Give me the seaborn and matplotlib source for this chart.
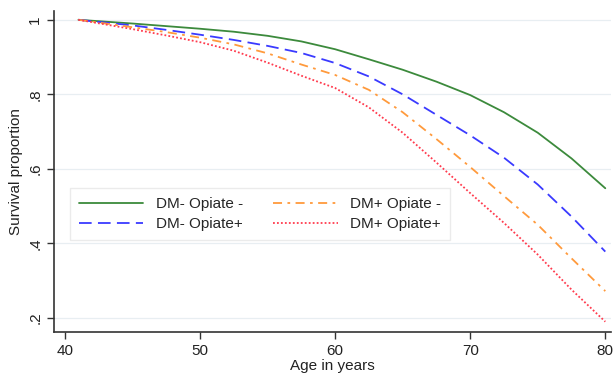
import pandas as pd
import seaborn as sns
import matplotlib.pyplot as plt

# Survival curves
ages = [41, 45, 47.5, 50, 52.5, 55, 57.5, 60, 62.5, 65, 67.5, 70, 72.5, 75, 77.5, 80]
dm_neg_op_neg = [1.0, 0.990, 0.983, 0.976, 0.968, 0.957, 0.942, 0.921, 0.894, 0.866, 0.834, 0.798, 0.752, 0.697, 0.628, 0.548]
dm_neg_op_pos = [1.0, 0.985, 0.973, 0.960, 0.946, 0.930, 0.911, 0.884, 0.848, 0.800, 0.745, 0.690, 0.630, 0.558, 0.472, 0.378]
dm_pos_op_neg = [1.0, 0.980, 0.967, 0.952, 0.934, 0.910, 0.880, 0.852, 0.812, 0.752, 0.680, 0.605, 0.527, 0.450, 0.360, 0.272]
dm_pos_op_pos = [1.0, 0.975, 0.958, 0.940, 0.917, 0.885, 0.850, 0.817, 0.765, 0.697, 0.617, 0.535, 0.455, 0.370, 0.276, 0.190]

groups = ['DM- Opiate -', 'DM- Opiate+', 'DM+ Opiate -', 'DM+ Opiate+']
series = [dm_neg_op_neg, dm_neg_op_pos, dm_pos_op_neg, dm_pos_op_pos]

df = pd.DataFrame({
    'age': ages * 4,
    'surv': sum(series, []),
    'group': [g for g in groups for _ in ages],
})

colors = {'DM- Opiate -': '#3c8a3c', 'DM- Opiate+': '#3a3aff',
          'DM+ Opiate -': '#ff9a3c', 'DM+ Opiate+': '#ff3b4e'}
dashes = {'DM- Opiate -': '', 'DM- Opiate+': (7, 3.5),
          'DM+ Opiate -': (5, 3, 1.5, 3), 'DM+ Opiate+': (1, 1.2)}

sns.set_style('white')
plt.rcParams['font.family'] = ['Liberation Sans', 'DejaVu Sans']

fig = plt.figure(figsize=(6.15, 3.74), dpi=100)
ax = fig.add_axes([0.088, 0.112, 0.905, 0.859])

sns.lineplot(data=df, x='age', y='surv', hue='group', style='group',
             palette=colors, dashes=dashes, hue_order=groups, style_order=groups,
             linewidth=1.3, ax=ax)

ax.set_xlim(39.2, 80.4)
ax.set_ylim(0.162, 1.024)
ax.set_xticks([40, 50, 60, 70, 80])
ax.set_yticks([0.2, 0.4, 0.6, 0.8, 1.0])
ax.set_yticklabels(['.2', '.4', '.6', '.8', '1'], rotation=90, va='center')
ax.tick_params(axis='both', labelsize=11, length=5, width=1, color='#333333',
               left=True, bottom=True, labelcolor='#222222')
ax.grid(axis='y', color='#e8eef2', linewidth=0.9)
ax.set_axisbelow(True)
for s in ['top', 'right']:
    ax.spines[s].set_visible(False)
for s in ['left', 'bottom']:
    ax.spines[s].set_color('#333333')
    ax.spines[s].set_linewidth(1.2)

ax.set_xlabel('Age in years', fontsize=11, labelpad=1, color='#222222')
ax.set_ylabel('Survival proportion', fontsize=11, color='#222222')

ax.legend(title=None, ncol=2, loc='lower left', bbox_to_anchor=(0.015, 0.262),
          frameon=True, edgecolor='#e6e6e6', fancybox=False, fontsize=11,
          handlelength=4.2, columnspacing=2.0, labelspacing=0.4,
          borderpad=0.6)

fig.savefig('out.png', dpi=100)
